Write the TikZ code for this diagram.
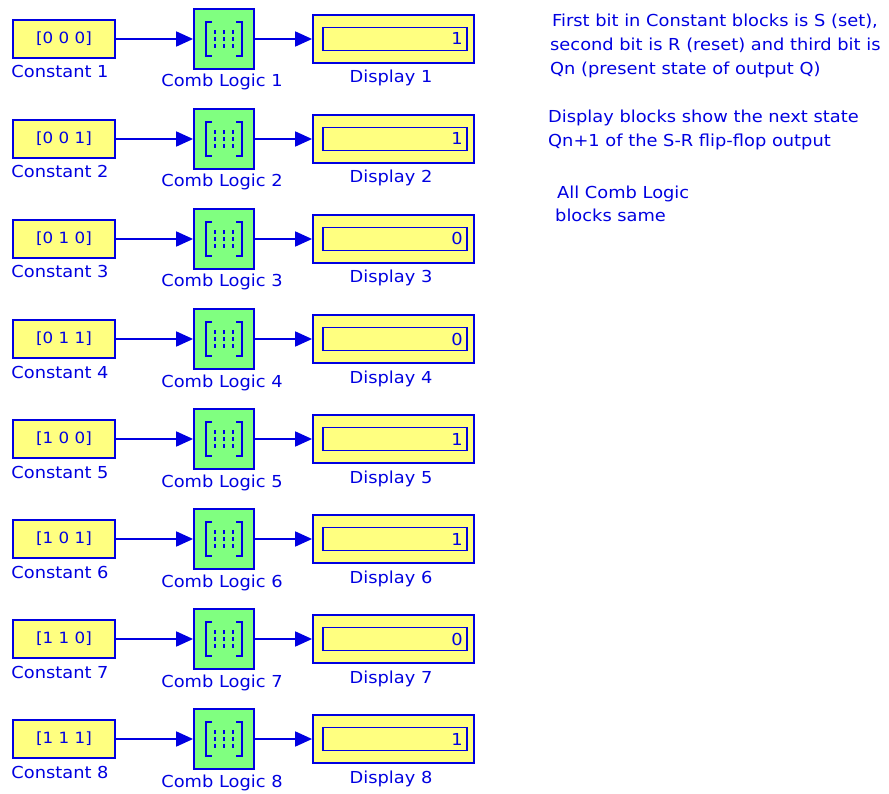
\documentclass[tikz,border=0pt]{standalone}
\usepackage{fontspec}
\setmainfont{DejaVu Sans}[FakeStretch=1.08]
\usetikzlibrary{arrows.meta}
\definecolor{sblue}{RGB}{0,0,225}
\definecolor{syellow}{RGB}{255,255,128}
\definecolor{sgreen}{RGB}{128,255,128}
\begin{document}
\begin{tikzpicture}[x=1pt,y=-1pt,
  txt/.style={text=sblue, font=\fontsize{16.5}{20}\selectfont, inner sep=0pt},
  constbox/.style={draw=sblue, fill=syellow, line width=1.8pt, minimum width=102pt, minimum height=38pt, inner sep=0pt, text=sblue, font=\fontsize{15.5}{18}\selectfont},
  combbox/.style={draw=sblue, fill=sgreen, line width=1.8pt, minimum width=60pt, minimum height=60pt, inner sep=0pt},
  dispbox/.style={draw=sblue, fill=syellow, line width=1.8pt, minimum width=161pt, minimum height=48pt, inner sep=0pt},
  dispin/.style={draw=sblue, line width=1.8pt, minimum width=144pt, minimum height=23pt, inner sep=0pt},
  icon/.style={draw=sblue, line width=1.8pt},
  wire/.style={draw=sblue, line width=1.8pt, -{Triangle[length=17pt,width=15pt]}}
]
\useasboundingbox (0,0) rectangle (889,794);
\fill[white] (0,0) rectangle (889,794);
\foreach \k/\v/\d [evaluate=\k as \y using 39+100*(\k-1)] in
  {1/{[0 0 0]}/1, 2/{[0 0 1]}/1, 3/{[0 1 0]}/0, 4/{[0 1 1]}/0,
   5/{[1 0 0]}/1, 6/{[1 0 1]}/1, 7/{[1 1 0]}/0, 8/{[1 1 1]}/1}{
  \node[constbox] (c\k) at (64,\y) {\v};
  \node[txt, anchor=base] (cl\k) at (60,\y+39) {Constant \k};
  \node[combbox] (g\k) at (224,\y) {};
  \begin{scope}[shift={(g\k.center)}]
    \draw[icon] (-12,-17) -- (-18,-17) -- (-18,17) -- (-12,17);
    \draw[icon] (12,-17) -- (18,-17) -- (18,17) -- (12,17);
    \foreach \dx in {-9,0,9}{
      \foreach \dy in {-7,0,7}{
        \fill[sblue] (\dx-1,\dy-2) rectangle (\dx+1,\dy+2);
      }
    }
  \end{scope}
  \node[txt, anchor=base] (gl\k) at (222,\y+48) {Comb Logic \k};
  \node[dispbox] (d\k) at (393.5,\y) {};
  \node[dispin] (di\k) at (395,\y) {};
  \node[txt, anchor=base east] (dv\k) at (463,\y+6) {\d};
  \node[txt, anchor=base] (dl\k) at (391,\y+44) {Display \k};
  \draw[wire] (c\k.east) -- (g\k.west);
  \draw[wire] (g\k.east) -- (d\k.west);
}
\node[txt, anchor=base west] (n1) at (552,27) {First bit in Constant blocks is S (set),};
\node[txt, anchor=base west] (n2) at (550,51) {second bit is R (reset) and third bit is};
\node[txt, anchor=base west] (n3) at (550,75) {Qn (present state of output Q)};
\node[txt, anchor=base west] (n4) at (548,123) {Display blocks show the next state};
\node[txt, anchor=base west] (n5) at (548,147) {Qn+1 of the S-R flip-flop output};
\node[txt, anchor=base west] (n6) at (557,199) {All Comb Logic};
\node[txt, anchor=base west] (n7) at (555,222) {blocks same};
\end{tikzpicture}
\end{document}
